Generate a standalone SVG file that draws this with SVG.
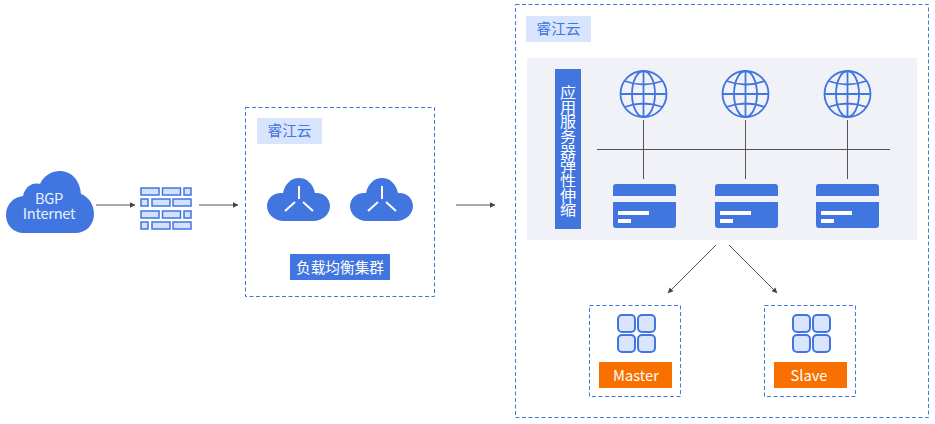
<svg xmlns="http://www.w3.org/2000/svg" xmlns:xlink="http://www.w3.org/1999/xlink" width="935" height="424" viewBox="0 0 935 424">
<style>
text{font-family:"Noto Sans CJK SC","Noto Sans",sans-serif;text-anchor:middle}
.box{fill:#fff;stroke:#4176e0;stroke-width:1;stroke-dasharray:4 2.5}
.lab{fill:#d9e5fd}
.labt{fill:#4176e0;font-size:14.670px}
.blue{fill:#4176e0}
.wt{fill:#fff;font-size:14.670px}
.wl{stroke:#fff;stroke-width:2;fill:none}
.con{stroke:#555;stroke-width:1;fill:none}
.arr{stroke:#555;stroke-width:1;fill:none;marker-end:url(#ah)}
.gl{fill:none;stroke:#4176e0;stroke-width:1.800}
.brick{fill:#d3e1fc;stroke:#4176e0;stroke-width:1.500}
.cell{fill:#d9e5fd;stroke:#4176e0;stroke-width:2}
</style>
<defs>
<marker id="ah" markerUnits="userSpaceOnUse" markerWidth="6" markerHeight="6" refX="5" refY="3" orient="auto"><path d="M0 0.3L5.500 3L0 5.700z" fill="#444"/></marker>
<g id="lbc">
<path class="blue" d="M17 43C7 43 0 36 0 28C0 20 7 14 16 15C18 6 24 0 32 0C40 0 46 6 48 15C56 14 63 20 63 28C63 36 56 43 46 43z"/>
<path class="wl" d="M32 8V21M18 33L28 24M46 33L36 24"/>
</g>
<g id="globe">
<circle class="gl" cx="0" cy="0" r="23"/>
<ellipse class="gl" cx="0" cy="0" rx="11.500" ry="23"/>
<path class="gl" d="M0 -23V23M-23 0H23M-19 -13Q0 -6 19 -13M-19 13Q0 6 19 13"/>
</g>
<g id="card">
<path class="blue" d="M3 0H60a3 3 0 0 1 3 3V12H0V3a3 3 0 0 1 3-3zM0 18H63V41a3 3 0 0 1-3 3H3a3 3 0 0 1-3-3z"/>
<rect x="5" y="27" width="31" height="4" fill="#fff"/>
<rect x="5" y="35" width="13" height="4" fill="#fff"/>
</g>
<g id="db">
<rect class="cell" x="1" y="1" width="17" height="17" rx="4"/>
<rect class="cell" x="21" y="1" width="17" height="17" rx="4"/>
<rect class="cell" x="1" y="21" width="17" height="17" rx="4"/>
<rect class="cell" x="21" y="21" width="17" height="17" rx="4"/>
</g>
</defs>
<rect width="935" height="424" fill="#fff"/>
<g id="cloud-bgp">
<path class="blue" d="M24 233C13 233 6 225 6 215C6 205 13 197 23 196C25 187 32 182 40 184C44 175 52 171 60 171C71 171 80 180 81 194C89 197 94 205 94 214C94 225 86 233 75 233z"/>
<text class="wt" style="fill:#e8efff;letter-spacing:-0.300px"><tspan x="49" y="204">BGP</tspan><tspan x="49" y="219">Internet</tspan></text>
</g>
<g id="firewall">
<rect class="brick" x="141" y="188" width="18" height="7"/><rect class="brick" x="162.500" y="188" width="18" height="7"/><rect class="brick" x="184" y="188" width="7" height="7"/>
<rect class="brick" x="141" y="199" width="7" height="7"/><rect class="brick" x="152" y="199" width="18" height="7"/><rect class="brick" x="173" y="199" width="18" height="7"/>
<rect class="brick" x="141" y="211" width="18" height="7"/><rect class="brick" x="162.500" y="211" width="18" height="7"/><rect class="brick" x="184" y="211" width="7" height="7"/>
<rect class="brick" x="141" y="222" width="7" height="7"/><rect class="brick" x="152" y="222" width="18" height="7"/><rect class="brick" x="173" y="222" width="18" height="7"/>
</g>
<g id="lb-cluster">
<rect class="box" x="245.500" y="107.500" width="189" height="189"/>
<rect class="lab" x="257" y="118" width="65" height="26"/>
<text x="289.500" y="136" class="labt">睿江云</text>
<use xlink:href="#lbc" x="267" y="178"/>
<use xlink:href="#lbc" x="350" y="178"/>
<rect class="blue" x="290" y="254" width="100" height="26"/>
<text x="340" y="272.500" class="wt">负载均衡集群</text>
</g>
<g id="cloud-main">
<rect class="box" x="515.500" y="4.500" width="413" height="413"/>
<rect class="lab" x="526" y="16" width="65" height="26"/>
<text x="558.500" y="34" class="labt">睿江云</text>
<rect x="527" y="58" width="390" height="182" fill="#f1f2f8"/>
</g>
<g id="scaling-label">
<rect class="blue" x="555" y="69" width="26" height="160"/>
<text class="wt" transform="translate(568 151) scale(1.100 1)" style="writing-mode:vertical-rl">应用服务器弹性伸缩</text>
</g>
<g id="connectors">
<path class="arr" d="M96 205H135"/>
<path class="arr" d="M199 205H238"/>
<path class="arr" d="M456 205H495"/>
<path class="con" d="M597 149.500H890M643.500 120V179M745.500 120V179M847.500 120V179"/>
<path class="arr" d="M716 245L668 293"/>
<path class="arr" d="M729 245L777 293"/>
</g>
<g id="server-1"><use xlink:href="#globe" x="643.500" y="94"/><use xlink:href="#card" x="613" y="184"/></g>
<g id="server-2"><use xlink:href="#globe" x="745.500" y="94"/><use xlink:href="#card" x="715" y="184"/></g>
<g id="server-3"><use xlink:href="#globe" x="847.500" y="94"/><use xlink:href="#card" x="816" y="184"/></g>
<g id="db-master">
<rect class="box" x="589.500" y="305.500" width="91" height="91"/>
<use xlink:href="#db" x="617" y="314"/>
<rect x="599" y="362" width="73" height="26" fill="#f77000"/>
<text x="636" y="380.500" class="wt">Master</text>
</g>
<g id="db-slave">
<rect class="box" x="764.500" y="305.500" width="91" height="91"/>
<use xlink:href="#db" x="792" y="314"/>
<rect x="774" y="362" width="73" height="26" fill="#f77000"/>
<text x="809" y="380.500" class="wt">Slave</text>
</g>
</svg>
